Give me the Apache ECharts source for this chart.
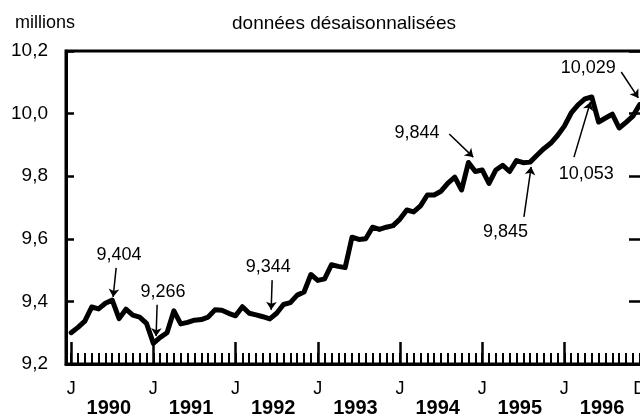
<!DOCTYPE html>
<html>
<head>
<meta charset="utf-8">
<script src="https://cdn.jsdelivr.net/npm/echarts@6/dist/echarts.min.js"></script>
<style>
  html, body { margin: 0; padding: 0; background: #fff; }
  #main { width: 640px; height: 419px; }
</style>
</head>
<body>
<div id="main"></div>
<script>
// emploi, données désaisonnalisées (millions), janvier 1990 à décembre 1996
const v1990 = [9.300, 9.317, 9.337, 9.382, 9.376, 9.394, 9.404, 9.345, 9.375, 9.356, 9.350, 9.330]
const v1991 = [9.266, 9.285, 9.300, 9.370, 9.328, 9.333, 9.340, 9.342, 9.350, 9.373, 9.372, 9.362]
const v1992 = [9.354, 9.383, 9.362, 9.357, 9.351, 9.344, 9.362, 9.390, 9.396, 9.420, 9.430, 9.486]
const v1993 = [9.467, 9.472, 9.517, 9.512, 9.508, 9.605, 9.598, 9.600, 9.637, 9.630, 9.637, 9.642]
const v1994 = [9.663, 9.692, 9.686, 9.705, 9.740, 9.740, 9.752, 9.778, 9.797, 9.756, 9.844, 9.815]
const v1995 = [9.820, 9.777, 9.820, 9.835, 9.815, 9.850, 9.843, 9.845, 9.867, 9.888, 9.905, 9.930]
const v1996 = [9.960, 10.002, 10.028, 10.047, 10.053, 9.973, 9.986, 9.998, 9.954, 9.972, 9.992, 10.029]

const years = ['1990', '1991', '1992', '1993', '1994', '1995', '1996']
const monthLabels = ['J', 'J', 'J', 'J', 'J', 'J', 'J', 'D']
const monthLabelPos = [0, 12, 24, 36, 48, 60, 72, 83]

// valeurs annotées : texte [mois, valeur], flèche de [mois, valeur] à [mois, valeur]
const notes = [
  { text: '9,404', at: [7.0, 9.548], from: [6.57, 9.507], to: [6.13, 9.414] },
  { text: '9,266', at: [13.4, 9.430], from: [12.55, 9.389], to: [12.4, 9.289] },
  { text: '9,344', at: [28.76, 9.510], from: [29.34, 9.468], to: [29.2, 9.373] },
  { text: '9,844', at: [50.5, 9.938], from: [55.2, 9.935], to: [58.7, 9.861] },
  { text: '9,845', at: [63.4, 9.622], from: [66.1, 9.670], to: [67.15, 9.830] },
  { text: '10,053', at: [75.2, 9.807], from: [73.4, 9.861], to: [75.8, 10.037] },
  { text: '10,029', at: [75.5, 10.146], from: [80.3, 10.133], to: [82.8, 10.050] }
]

const allValues = [].concat(v1990, v1991, v1992, v1993, v1994, v1995, v1996)
const seriesData = allValues.map((v, i) => [i, v])
const janTicks = years.map((y, k) => k * 12)
const monthTicks = allValues.map((v, i) => i)
const yearPos = years.map((y, k) => k * 12 + 5.5)

const font = 'Liberation Sans, Arial, sans-serif'
const chart = echarts.init(document.getElementById('main'))

const option = {
  animation: false,
  textStyle: { fontFamily: font },
  title: [
    {
      text: 'millions',
      left: 10, top: 9,
      textStyle: { fontSize: 18, fontWeight: 'normal', color: '#000', fontFamily: font }
    },
    {
      text: 'données désaisonnalisées',
      left: 227, top: 9,
      textStyle: { fontSize: 19, fontWeight: 'normal', color: '#000', fontFamily: font }
    }
  ],
  grid: {
    left: 66, top: 51, width: 584, height: 313,
    containLabel: false,
    outerBoundsMode: 'none', // la zone du graphique déborde à droite, comme l'original
    show: true, borderColor: '#000', borderWidth: 3
  },
  xAxis: [
    {
      type: 'value', min: -0.75, max: 84.5, position: 'bottom',
      axisLine: { onZero: false, lineStyle: { color: '#000', width: 3 } },
      axisTick: { show: true, inside: true, length: 22, customValues: janTicks, lineStyle: { color: '#000', width: 2.5 } },
      axisLabel: {
        customValues: monthLabelPos,
        formatter: v => monthLabels[monthLabelPos.indexOf(v)],
        color: '#000', fontSize: 18, margin: 16, fontFamily: font
      },
      splitLine: { show: false }
    },
    {
      type: 'value', min: -0.75, max: 84.5, position: 'bottom',
      axisLine: { show: false, onZero: false },
      axisTick: { show: true, inside: true, length: 11, customValues: monthTicks, lineStyle: { color: '#000', width: 2 } },
      axisLabel: {
        customValues: yearPos,
        formatter: v => years[yearPos.indexOf(v)],
        color: '#000', fontSize: 20, fontWeight: 'bold', margin: 34, fontFamily: font
      },
      splitLine: { show: false }
    }
  ],
  yAxis: [
    {
      type: 'value', min: 9.2, max: 10.2, interval: 0.2, position: 'left',
      axisLine: { show: true, onZero: false, lineStyle: { color: '#000', width: 3 } },
      axisTick: { show: true, inside: true, length: 8, lineStyle: { color: '#000', width: 2.5 } },
      axisLabel: {
        formatter: v => v.toFixed(1).replace('.', ','),
        color: '#000', fontSize: 19, margin: 18, fontFamily: font
      },
      splitLine: { show: false }
    },
    {
      type: 'value', min: 9.2, max: 10.2, interval: 0.2, position: 'right',
      axisLine: { show: true, onZero: false, lineStyle: { color: '#000', width: 3 } },
      axisTick: { show: true, inside: true, length: 21, lineStyle: { color: '#000', width: 2.5 } },
      axisLabel: { show: false },
      splitLine: { show: false }
    }
  ],
  series: [
    {
      type: 'line',
      data: seriesData,
      showSymbol: false,
      symbol: 'none',
      lineStyle: { color: '#000', width: 5, join: 'round', cap: 'round' },
      markLine: {
        silent: true,
        symbol: ['none', 'arrow'],
        symbolSize: 8,
        label: { show: false },
        lineStyle: { color: '#000', width: 1.5, type: 'solid' },
        data: notes.map(n => [{ coord: n.from }, { coord: n.to }])
      },
      markPoint: {
        silent: true,
        symbol: 'circle',
        symbolSize: 1,
        itemStyle: { color: 'rgba(0,0,0,0)' },
        label: { show: true, position: 'inside', formatter: '{b}', color: '#000', fontSize: 18, fontFamily: font },
        data: notes.map(n => ({ name: n.text, coord: n.at }))
      }
    }
  ]
}

chart.setOption(option)
</script>
</body>
</html>
